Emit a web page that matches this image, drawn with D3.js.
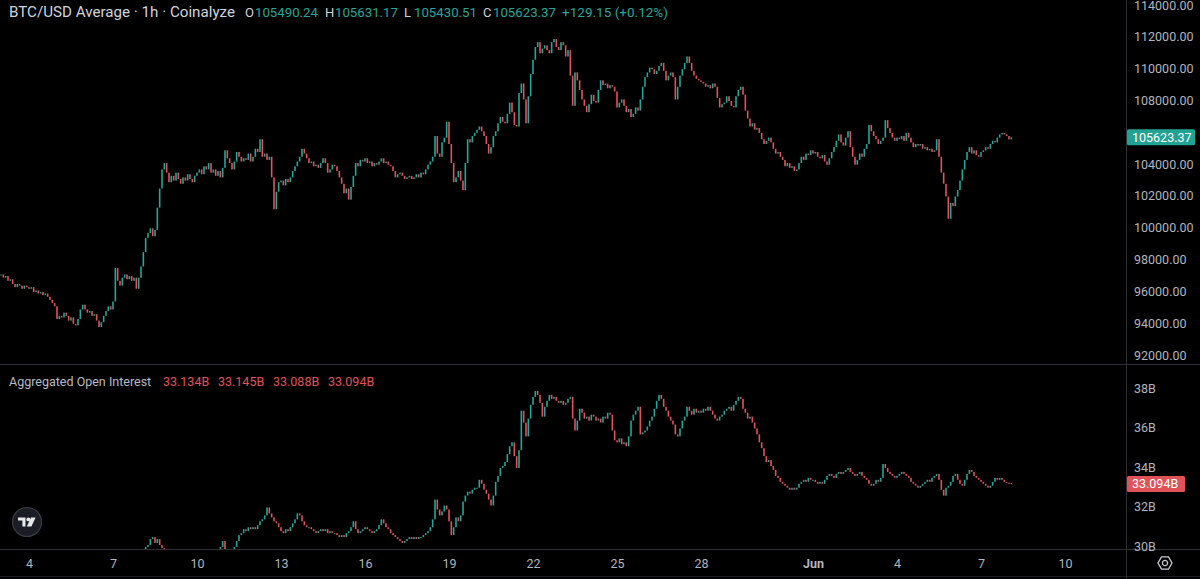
<!DOCTYPE html>
<meta charset="utf-8">
<head>
<script src="https://cdn.jsdelivr.net/npm/d3@7/dist/d3.min.js"></script>
<style>
body { margin: 0; background: #000; overflow: hidden; }
text { font-family: Roboto, "Noto Sans", sans-serif; }
</style>
</head>
<body>
<script>

// 2h closes, BTC/USD in hundreds of dollars, from 3 May 00:00 (one row per day)
var priceHundreds = [
  970, 968, 969, 966, 967, 964, 962, 964, 963, 961, 963, 962,
  961, 962, 959, 960, 958, 959, 957, 958, 956, 954, 952, 950,
  942, 944, 943, 946, 944, 941, 943, 939, 938, 942, 948, 951,
  948, 946, 947, 944, 945, 941, 937, 940, 944, 947, 950, 948,
  953, 974, 966, 963, 968, 970, 967, 969, 966, 968, 961, 968,
  975, 984, 993, 996, 999, 994, 998, 1012, 1024, 1036, 1040, 1034,
  1028, 1032, 1029, 1034, 1030, 1027, 1031, 1029, 1033, 1030, 1028, 1032,
  1034, 1036, 1033, 1038, 1036, 1040, 1034, 1036, 1032, 1035, 1031, 1037,
  1048, 1043, 1040, 1036, 1041, 1047, 1044, 1041, 1043, 1042, 1046, 1041,
  1044, 1049, 1047, 1055, 1044, 1046, 1042, 1044, 1031, 1011, 1022, 1028,
  1029, 1026, 1030, 1028, 1031, 1035, 1038, 1041, 1044, 1049, 1046, 1043,
  1040, 1041, 1038, 1039, 1037, 1040, 1043, 1040, 1034, 1036, 1039, 1038,
  1035, 1031, 1027, 1021, 1024, 1017, 1025, 1032, 1040, 1038, 1042, 1041,
  1043, 1040, 1041, 1038, 1040, 1039, 1041, 1043, 1040, 1041, 1039, 1038,
  1035, 1031, 1033, 1034, 1032, 1030, 1031, 1032, 1030, 1031, 1033, 1031,
  1034, 1033, 1036, 1039, 1041, 1044, 1057, 1046, 1044, 1053, 1056, 1066,
  1052, 1040, 1028, 1031, 1035, 1029, 1023, 1040, 1055, 1053, 1057, 1059,
  1061, 1063, 1060, 1057, 1052, 1046, 1050, 1057, 1060, 1065, 1069, 1066,
  1065, 1071, 1078, 1072, 1064, 1063, 1084, 1090, 1080, 1065, 1082, 1096,
  1105, 1113, 1116, 1109, 1112, 1114, 1111, 1109, 1116, 1118, 1113, 1111,
  1116, 1114, 1107, 1111, 1095, 1076, 1097, 1092, 1086, 1080, 1076, 1072,
  1077, 1083, 1079, 1078, 1086, 1092, 1089, 1090, 1087, 1089, 1088, 1085,
  1075, 1078, 1080, 1076, 1072, 1074, 1069, 1071, 1075, 1073, 1080, 1088,
  1094, 1097, 1100, 1099, 1096, 1098, 1101, 1103, 1098, 1092, 1095, 1097,
  1094, 1080, 1088, 1095, 1099, 1103, 1107, 1103, 1098, 1095, 1093, 1092,
  1091, 1090, 1088, 1089, 1087, 1090, 1088, 1081, 1075, 1077, 1078, 1082,
  1079, 1076, 1075, 1082, 1086, 1088, 1083, 1073, 1068, 1063, 1065, 1061,
  1062, 1059, 1055, 1052, 1054, 1056, 1053, 1049, 1046, 1047, 1044, 1042,
  1038, 1040, 1037, 1038, 1035, 1036, 1040, 1044, 1042, 1046, 1045, 1048,
  1046, 1047, 1044, 1043, 1045, 1041, 1039, 1043, 1047, 1050, 1054, 1058,
  1053, 1051, 1056, 1060, 1050, 1044, 1039, 1042, 1046, 1044, 1049, 1052,
  1064, 1060, 1057, 1055, 1052, 1054, 1056, 1067, 1062, 1059, 1056, 1054,
  1056, 1055, 1057, 1054, 1059, 1056, 1053, 1050, 1052, 1051, 1052, 1049,
  1050, 1048, 1049, 1047, 1048, 1055, 1044, 1034, 1027, 1019, 1005, 1015,
  1013, 1019, 1023, 1029, 1036, 1042, 1047, 1050, 1046, 1048, 1045, 1044,
  1047, 1048, 1050, 1049, 1052, 1054, 1053, 1056, 1058, 1059, 1058, 1057,
  1054.9024, 1056.2337
];

// 2h closes, aggregated open interest in billions (same timeline)
var oiBillions = [
  29.4, 29.3, 29.4, 29.5, 29.4, 29.3, 29.2, 29.3, 29.4, 29.3, 29.2, 29.3,
  29.3, 29.2, 29.1, 29.2, 29.0, 28.9, 28.8, 28.9, 28.8, 28.7, 28.8, 28.7,
  28.6, 28.7, 28.8, 28.7, 28.6, 28.5, 28.6, 28.7, 28.8, 28.9, 29.0, 29.1,
  29.0, 29.1, 29.0, 28.9, 29.0, 28.8, 28.7, 28.9, 29.0, 29.1, 29.0, 29.2,
  29.5, 29.4, 29.5, 29.3, 29.4, 29.5, 29.4, 29.3, 29.4, 29.3, 29.5, 29.6,
  29.7, 29.8, 29.9, 30.0, 30.3, 30.4, 30.1, 30.3, 30.0, 29.85, 29.6, 29.4,
  29.3, 29.2, 29.3, 29.1, 29.2, 29.0, 29.1, 29.2, 29.1, 29.3, 29.2, 29.4,
  29.5, 29.4, 29.5, 29.6, 29.7, 29.75, 29.7, 29.8, 29.7, 29.8, 29.9, 30.2,
  29.7, 29.6, 29.7, 29.8, 29.9, 30.2, 30.5, 30.6, 30.8, 30.7, 30.9, 30.8,
  30.9, 30.8, 31.0, 31.2, 31.3, 31.5, 31.9, 31.6, 31.4, 31.2, 31.1, 30.9,
  30.7, 30.6, 30.8, 30.7, 30.9, 31.1, 31.3, 31.6, 31.5, 31.2, 31.0, 30.9,
  30.9, 30.8, 30.7, 30.6, 30.7, 30.8, 30.7, 30.8, 30.6, 30.7, 30.6, 30.6,
  30.5, 30.4, 30.5, 30.4, 30.6, 30.7, 30.9, 31.2, 30.8, 30.6, 30.7, 30.8,
  30.9, 30.8, 30.7, 30.6, 30.7, 30.8, 31.0, 31.3, 31.1, 30.9, 30.8, 30.6,
  30.5, 30.4, 30.3, 30.2, 30.1, 30.2, 30.3, 30.4, 30.3, 30.4, 30.3, 30.4,
  30.4, 30.5, 30.6, 30.7, 30.9, 31.3, 32.3, 31.8, 31.5, 31.7, 32.0, 31.8,
  31.2, 30.5, 30.9, 31.4, 31.2, 31.5, 32.2, 32.5, 32.7, 32.6, 32.8, 32.9,
  32.9, 33.3, 33.1, 32.8, 32.6, 32.3, 32.0, 32.5, 33.2, 33.5, 33.9, 34.0,
  34.2, 34.6, 35.0, 35.2, 34.5, 33.9, 34.8, 36.8, 36.2, 35.5, 36.4, 37.1,
  37.5, 37.8, 37.6, 37.2, 36.5, 37.0, 37.3, 37.6, 37.4, 37.5, 37.3, 37.2,
  37.3, 37.1, 37.2, 37.4, 37.5, 36.4, 35.8, 36.3, 36.9, 36.7, 36.4, 36.5,
  36.3, 36.6, 36.5, 36.3, 36.4, 36.2, 36.5, 36.4, 36.7, 36.6, 35.8, 35.3,
  35.2, 35.4, 35.1, 35.2, 35.0, 35.5, 36.3, 36.6, 36.8, 37.0, 35.6, 35.7,
  35.8, 36.0, 36.3, 36.5, 36.9, 37.3, 37.6, 37.4, 37.0, 36.8, 36.5, 36.3,
  36.1, 35.6, 35.5, 35.9, 36.3, 36.5, 37.0, 36.8, 36.6, 36.9, 36.7, 36.8,
  36.7, 36.9, 36.8, 37.0, 36.8, 36.6, 36.4, 36.3, 36.5, 36.6, 36.8, 36.9,
  37.0, 36.8, 37.1, 37.3, 37.5, 37.4, 36.9, 36.7, 36.4, 36.5, 36.2, 35.9,
  35.6, 35.2, 34.9, 34.5, 34.2, 34.3, 34.0, 33.8, 33.5, 33.4, 33.2, 33.1,
  33.0, 32.9, 32.8, 32.9, 32.8, 32.9, 33.1, 33.2, 33.3, 33.2, 33.4, 33.3,
  33.3, 33.2, 33.1, 33.2, 33.1, 33.3, 33.5, 33.6, 33.5, 33.4, 33.6, 33.7,
  33.6, 33.7, 33.8, 33.9, 33.7, 33.6, 33.5, 33.6, 33.7, 33.5, 33.4, 33.3,
  33.1, 33.0, 33.1, 33.3, 33.2, 33.4, 34.1, 33.9, 33.7, 33.6, 33.5, 33.4,
  33.5, 33.6, 33.7, 33.6, 33.5, 33.4, 33.2, 33.1, 33.0, 32.9, 33.0, 33.1,
  33.2, 33.3, 33.2, 33.4, 33.5, 33.6, 33.3, 32.8, 32.5, 32.9, 33.0, 33.2,
  33.5, 33.6, 33.3, 33.1, 33.0, 33.3, 33.6, 33.8, 33.7, 33.5, 33.4, 33.3,
  33.2, 33.1, 33.0, 32.9, 33.0, 33.2, 33.4, 33.3, 33.4, 33.3, 33.2, 33.15,
  33.134, 33.094
];

var priceTicks = [92000, 94000, 96000, 98000, 100000, 102000, 104000, 108000, 110000, 112000, 114000];
var oiTicks = [30, 32, 34, 36, 38];
var dayTicks = ["2025-05-04", "2025-05-07", "2025-05-10", "2025-05-13", "2025-05-16", "2025-05-19",
                "2025-05-22", "2025-05-25", "2025-05-28", "2025-06-01", "2025-06-04", "2025-06-07", "2025-06-10"];
var lastPrice = 105623.37, lastOI = 33.094;
var ohlcLetters = ["O", "H", "L", "C"];
var ohlc = ["105490.24", "105631.17", "105430.51", "105623.37"];
var change = "+129.15 (+0.12%)";
var oiHeader = ["33.134B", "33.145B", "33.088B", "33.094B"];

var width = 1200, height = 579, axisX = 1126;
var up = "#26a69a", down = "#e0535a", txt = "#b2b5be", line = "#2f3036";

var svg = d3.select("body").append("svg")
    .attr("width", width).attr("height", height)
    .style("background", "#000");

var start = new Date(Date.UTC(2025, 4, 3));
var x = d3.scaleUtc()
    .domain([start, new Date(Date.UTC(2025, 5, 10))])
    .range([1, 1 + 38 * 28]);
var yP = d3.scaleLinear().domain([92000, 114000]).range([354, 4]);
var yO = d3.scaleLinear().domain([30, 38]).range([545, 387]);

function timeAt(i) { return new Date(start.getTime() + i * 2 * 3600 * 1000); }

function candles(vals) {
  return vals.map(function(c, i) {
    return { t: timeAt(i), o: i ? vals[i - 1] : c, c: c };
  });
}
var priceData = candles(priceHundreds.map(function(d) { return d * 100; }));
var oiData = candles(oiBillions);

var defs = svg.append("defs");
defs.append("clipPath").attr("id", "clipP").append("rect")
    .attr("x", 0).attr("y", 0).attr("width", axisX).attr("height", 363);
defs.append("clipPath").attr("id", "clipO").append("rect")
    .attr("x", 0).attr("y", 365).attr("width", axisX).attr("height", 184);

function drawCandles(data, y, clip) {
  svg.append("g").attr("clip-path", "url(#" + clip + ")")
    .selectAll("rect").data(data).enter().append("rect")
      .attr("x", function(d) { return x(d.t) - 0.8; })
      .attr("width", 1.6)
      .attr("y", function(d) { return y(Math.max(d.o, d.c)); })
      .attr("height", function(d) { return Math.max(1, Math.abs(y(d.o) - y(d.c))); })
      .attr("fill", function(d) { return d.c >= d.o ? up : down; });
}
drawCandles(priceData, yP, "clipP");
drawCandles(oiData, yO, "clipO");

// pane separators
svg.append("line").attr("x1", 0).attr("x2", width).attr("y1", 364.5).attr("y2", 364.5).attr("stroke", line);
svg.append("line").attr("x1", 0).attr("x2", width).attr("y1", 549.5).attr("y2", 549.5).attr("stroke", line);
svg.append("line").attr("x1", 0).attr("x2", width).attr("y1", 576.5).attr("y2", 576.5).attr("stroke", "#1c1d22");
svg.append("line").attr("x1", axisX + 0.5).attr("x2", axisX + 0.5).attr("y1", 0).attr("y2", height).attr("stroke", line);

// right axes
var axP = svg.append("g").attr("transform", "translate(" + (axisX + 6) + ",0)")
    .call(d3.axisRight(yP).tickValues(priceTicks).tickSize(0).tickFormat(d3.format(".2f")));
var axO = svg.append("g").attr("transform", "translate(" + (axisX + 6) + ",0)")
    .call(d3.axisRight(yO).tickValues(oiTicks).tickSize(0).tickFormat(function(d) { return d + "B"; }));
[axP, axO].forEach(function(a) {
  a.select(".domain").remove();
  a.selectAll("text").attr("fill", txt).attr("font-size", 12.5).attr("x", 2).attr("dy", "0.4em")
    .attr("font-family", "Roboto, sans-serif");
});

// bottom time axis
var axT = svg.append("g").attr("transform", "translate(0,556)")
    .call(d3.axisBottom(x).tickValues(dayTicks.map(function(s) { return new Date(s + "T00:00:00Z"); }))
      .tickSize(0).tickFormat(function(d) { return d.getUTCDate() === 1 ? "Jun" : d.getUTCDate(); }));
axT.select(".domain").remove();
axT.selectAll("text").attr("fill", txt).attr("font-size", 12.5).attr("dy", "0.71em")
    .attr("font-family", "Roboto, sans-serif")
    .attr("font-weight", function(d) { return d.getUTCDate() === 1 ? "bold" : null; });

// last value labels
function lastLabel(yv, label, color, w) {
  var g = svg.append("g").attr("transform", "translate(" + (axisX + 1) + "," + yv + ")");
  g.append("rect").attr("x", 0).attr("y", -8).attr("width", w).attr("height", 16).attr("rx", 1.5).attr("fill", color);
  g.append("text").attr("x", 5).attr("y", 0).attr("dy", "0.36em").attr("fill", "#fff")
    .attr("font-size", 12.5).text(label);
}
lastLabel(yP(lastPrice), d3.format(".2f")(lastPrice), "#22a293", 68);
lastLabel(yO(lastOI), lastOI.toFixed(3) + "B", "#e05257", 58);

// price header
var hdr = svg.append("g");
hdr.append("text").attr("x", 9).attr("y", 17).attr("fill", "#d1d4dc").attr("font-size", 15)
    .attr("textLength", 226).attr("lengthAdjust", "spacingAndGlyphs")
    .text("BTC/USD Average \u00b7 1h \u00b7 Coinalyze");
var lx = [245, 325, 404, 483];
ohlcLetters.forEach(function(l, i) {
  hdr.append("text").attr("x", lx[i]).attr("y", 17).attr("fill", "#d1d4dc").attr("font-size", 13)
      .text(l);
  hdr.append("text").attr("x", lx[i] + 10).attr("y", 17).attr("fill", up).attr("font-size", 13)
      .attr("textLength", 63).attr("lengthAdjust", "spacingAndGlyphs").text(ohlc[i]);
});
hdr.append("text").attr("x", 562).attr("y", 17).attr("fill", up).attr("font-size", 13)
    .attr("textLength", 106).attr("lengthAdjust", "spacingAndGlyphs").text(change);

// open interest header
var oh = svg.append("g").attr("font-size", 12.5);
oh.append("text").attr("x", 9).attr("y", 386).attr("fill", "#b8bbc3").text("Aggregated Open Interest");
oiHeader.forEach(function(v, i) {
  oh.append("text").attr("x", 163 + i * 55).attr("y", 386).attr("fill", "#e05257").text(v);
});

// TradingView badge
var tv = svg.append("g").attr("transform", "translate(27,522)");
tv.append("circle").attr("r", 14.5).attr("fill", "#1b1d24").attr("stroke", "#3a3d47").attr("stroke-width", 1.2);
tv.append("path").attr("fill", "#e8e8ea")
    .attr("d", "M-9,-4.5 H-1.5 V4.5 H-4.6 V-1.6 H-9 Z M4,-4.5 H8.6 L4.4,4.5 H-0.2 Z");
tv.append("circle").attr("cx", 1.3).attr("cy", -2.6).attr("r", 1.9).attr("fill", "#e8e8ea");

// settings gear
var gear = svg.append("g").attr("transform", "translate(1165,563)")
    .attr("fill", "none").attr("stroke", "#c7c9d0").attr("stroke-width", 1.3);
gear.append("path").attr("d", d3.range(6).map(function(k) {
  var a = Math.PI / 3 * k;
  return (k ? "L" : "M") + (7 * Math.cos(a)).toFixed(2) + "," + (7 * Math.sin(a)).toFixed(2);
}).join("") + "Z");
gear.append("circle").attr("r", 2.6);

</script>
</body>
